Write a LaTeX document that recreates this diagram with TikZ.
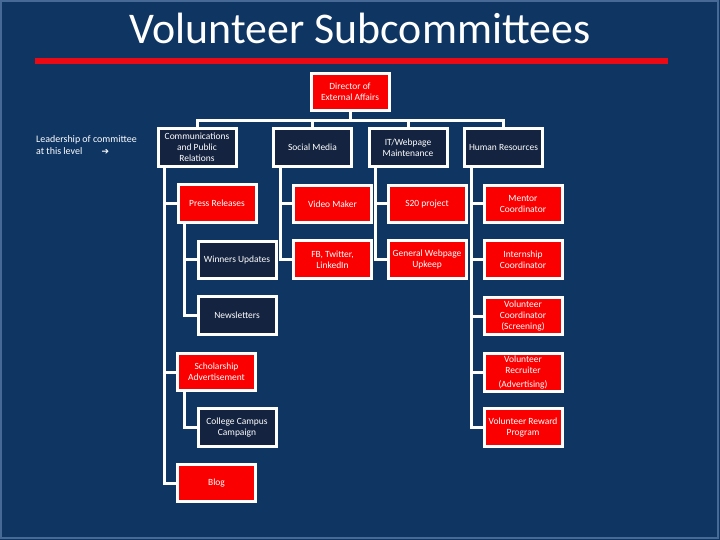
\documentclass[tikz,border=0pt]{standalone}
\usepackage{fontspec}
\setmainfont{Carlito}
\newfontfamily\symfont{DejaVu Sans}
\usetikzlibrary{calc}
\definecolor{bgblue}{RGB}{15,53,99}
\definecolor{framebl}{RGB}{70,105,150}
\definecolor{darkbox}{RGB}{20,35,64}
\definecolor{redbox}{RGB}{250,0,0}
\definecolor{barred}{RGB}{235,10,20}
\pgfdeclarelayer{back}
\pgfdeclarelayer{links}
\pgfsetlayers{back,links,main}
\tikzset{
  box/.style={draw=white, line width=3bp, minimum width=78bp, minimum height=37.5bp,
    inner sep=1bp, align=center, text=white, font=\fontsize{9.5}{10.8}\selectfont},
  redb/.style={box, fill=redbox},
  darkb/.style={box, fill=darkbox},
  conn/.style={draw=white, line width=3bp, line join=miter},
}
\begin{document}
\begin{tikzpicture}[x=1bp,y=-1bp]
\begin{pgfonlayer}{back}
\fill[bgblue] (0,0) rectangle (720,540);
\draw[framebl, line width=2bp] (1,1) rectangle (718,538);
\end{pgfonlayer}
\useasboundingbox (0,0) rectangle (720,540);

\node[text=white, font=\fontsize{44}{48}\selectfont] (title) at (360,28) {Volunteer Subcommittees};
\fill[barred] (35,58) rectangle (668,64);

\node[anchor=north west, align=left, text=white, inner sep=0pt,
  font=\fontsize{10}{12}\selectfont] (lead) at (36,135)
  {Leadership of committee\\ at this level \hspace{17bp}{\symfont\bfseries\fontsize{9}{12}\selectfont ➔}};

\node[redb] (director) at (350,92) {Director of\\External Affairs};

\node[darkb] (comm) at (197,147.5) {Communications\\and Public\\Relations};
\node[darkb] (social) at (312.5,147.5) {Social Media};
\node[darkb] (it) at (408,147.5) {IT/Webpage\\Maintenance};
\node[darkb] (hr) at (503.5,147.5) {Human Resources};

\node[redb] (press) at (217,203.5) {Press Releases};
\node[darkb] (winners) at (237,260) {Winners Updates};
\node[darkb] (news) at (237,315.5) {Newsletters};
\node[redb] (schol) at (216.5,372) {Scholarship\\Advertisement};
\node[darkb] (college) at (237,427.5) {College Campus\\Campaign};
\node[redb] (blog) at (216.5,483) {Blog};

\node[redb] (video) at (332.5,204) {Video Maker};
\node[redb] (fb) at (332.5,259.5) {FB, Twitter,\\LinkedIn};

\node[redb] (s20) at (427,204) {S20 project};
\node[redb] (gen) at (427,259.5) {General Webpage\\Upkeep};

\node[redb] (mentor) at (523,204) {Mentor\\Coordinator};
\node[redb] (intern) at (523,259.5) {Internship\\Coordinator};
\node[redb] (volcoord) at (523,316) {Volunteer\\Coordinator\\(Screening)};
\node[redb] (volrec) at (523,372.5) {Volunteer\\Recruiter\\[3bp](Advertising)};
\node[redb] (reward) at (523,427.5) {Volunteer Reward\\Program};

\coordinate (bus) at (350,121);

\begin{pgfonlayer}{links}
\draw[conn] (director.south) -- (bus);
\draw[conn] (comm.north) |- (bus) -| (hr.north);
\draw[conn] (social.north) -- (social.north |- bus);
\draw[conn] (it.north) -- (it.north |- bus);

\draw[conn] ($(comm.south west)+(8,0)$) |- (press.west);
\draw[conn] ($(comm.south west)+(8,0)$) |- (schol.west);
\draw[conn] ($(comm.south west)+(8,0)$) |- (blog.west);
\draw[conn] ($(press.south west)+(8,0)$) |- (winners.west);
\draw[conn] ($(press.south west)+(8,0)$) |- (news.west);
\draw[conn] ($(schol.south west)+(8,0)$) |- (college.west);

\draw[conn] ($(social.south west)+(8,0)$) |- (video.west);
\draw[conn] ($(social.south west)+(8,0)$) |- (fb.west);
\draw[conn] ($(it.south west)+(8,0)$) |- (s20.west);
\draw[conn] ($(it.south west)+(8,0)$) |- (gen.west);

\draw[conn] ($(hr.south west)+(8,0)$) |- (mentor.west);
\draw[conn] ($(hr.south west)+(8,0)$) |- (intern.west);
\draw[conn] ($(hr.south west)+(8,0)$) |- (volcoord.west);
\draw[conn] ($(hr.south west)+(8,0)$) |- (volrec.west);
\draw[conn] ($(hr.south west)+(8,0)$) |- (reward.west);
\end{pgfonlayer}
\end{tikzpicture}
\end{document}
